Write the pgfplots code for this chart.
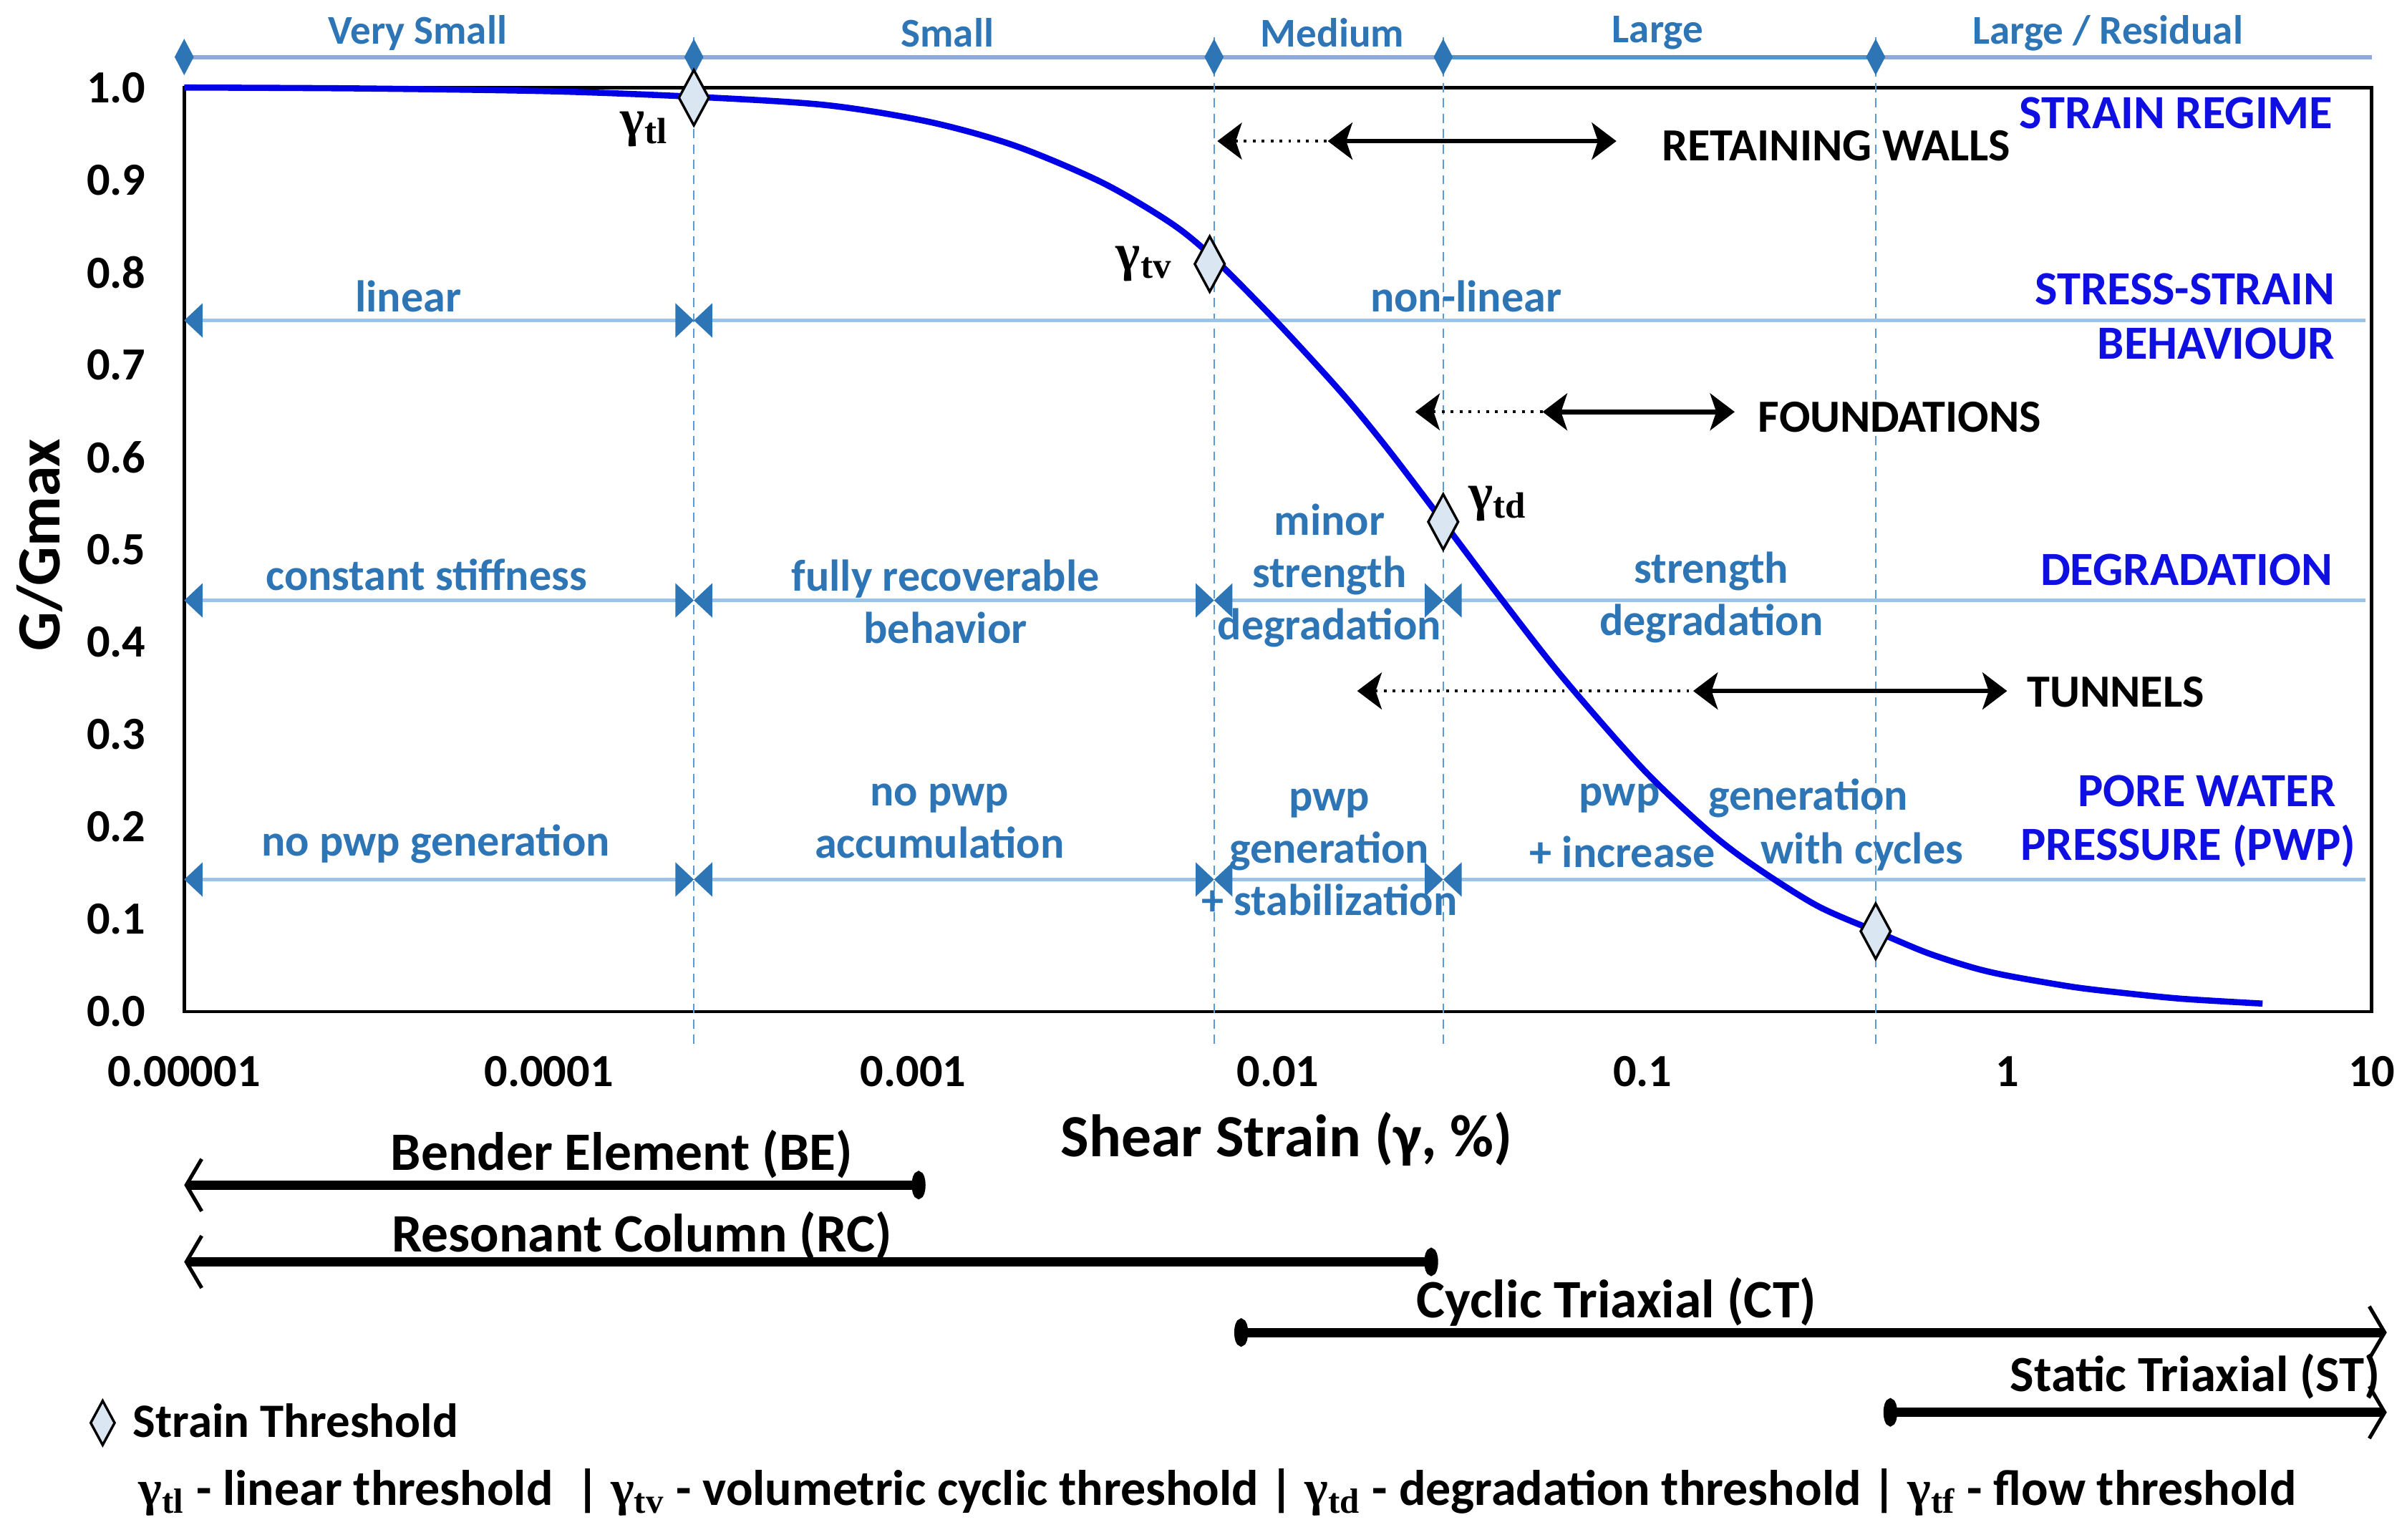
\documentclass[border=0pt]{standalone}
\usepackage{pgfplots}
\pgfplotsset{compat=1.18}
\usetikzlibrary{arrows.meta}
\usepackage{fontspec}
\setmainfont{Carlito}
\newfontfamily\gfont{Liberation Serif}
\definecolor{regime}{RGB}{46,117,182}
\definecolor{lab}{RGB}{15,15,225}
\definecolor{curvec}{RGB}{0,0,230}
\definecolor{thr}{RGB}{91,155,213}
\definecolor{hline}{RGB}{157,195,230}
\definecolor{topbar}{RGB}{142,169,219}
\definecolor{topbar2}{RGB}{80,150,205}
\definecolor{dfill}{RGB}{218,230,242}
\newcommand\fs[1]{\fontsize{#1}{1.2\dimexpr#1pt\relax}\selectfont\bfseries}
\newcommand\gam[1]{{\gfont\bfseries γ\textsubscript{#1}}}

\begin{document}
\begin{tikzpicture}[
  hl/.style={draw=hline, line width=1pt},
  tri/.tip={Triangle[length=6pt,width=11pt,color=regime,fill=regime]},
  stl/.tip={Stealth[length=8pt,width=12pt,inset=2pt]},
  barb/.tip={Straight Barb[length=5pt,width=17pt,line width=1.2pt]},
  dot/.tip={Ellipse[length=4.5pt,width=9pt]},
  rt/.style={regime, font=\fs{14.5}, align=center},
  ml/.style={regime, font=\fontsize{14.5}{17}\selectfont\bfseries, align=center},
  rl/.style={lab, font=\fs{15.5}, anchor=east, inner sep=0pt},
  ap/.style={black, font=\fs{15}, anchor=west, inner sep=0pt},
  tl/.style={black, font=\fs{17.6}},
]
\useasboundingbox (-60pt,-172pt) rectangle (724pt,329.5pt);
\begin{axis}[
  at={(0,0)}, anchor=south west,
  scale only axis, width=712.5pt, height=301pt,
  xmode=log, xmin=1e-5, xmax=10, ymin=0, ymax=1,
  xtick={1e-5,1e-4,1e-3,1e-2,1e-1,1,10},
  xticklabels={0.00001,0.0001,0.001,0.01,0.1,1,10},
  minor xtick={},
  ytick={0,0.1,0.2,0.3,0.4,0.5,0.6,0.7,0.8,0.9,1.0},
  yticklabel style={/pgf/number format/fixed, /pgf/number format/fixed zerofill,
    /pgf/number format/precision=1, /pgf/number format/assume math mode=true, xshift=-9pt},
  xticklabel style={yshift=-11pt},
  major tick length=0pt, minor tick length=0pt,
  tick label style={font=\fs{15}},
  axis line style={line width=1.1pt},
  xlabel={Shear Strain (γ, \%)},
  xlabel style={font=\fs{19.5}, at={(axis description cs:0.504,-0.138)}, anchor=center},
  ylabel={G/Gmax},
  ylabel style={font=\fs{20}, at={(axis description cs:-0.066,0.505)}, anchor=center},
  clip=false,
  legend style={at={(axis description cs:-0.043,-0.445)}, anchor=west, draw=none, fill=none,
    font=\fs{15.6}, inner sep=0pt},
  legend image post style={scale=0.8},
  legend cell align=left,
]
% threshold verticals
\addplot[thr, line width=0.5pt, dash pattern=on 3pt off 2pt, forget plot] coordinates {(2.5e-4,-0.035) (2.5e-4,1.06)};
\addplot[thr, line width=0.5pt, dash pattern=on 3pt off 2pt, forget plot] coordinates {(6.68e-3,-0.035) (6.68e-3,1.06)};
\addplot[thr, line width=0.5pt, dash pattern=on 3pt off 2pt, forget plot] coordinates {(0.0284,-0.035) (0.0284,1.06)};
\addplot[thr, line width=0.5pt, dash pattern=on 3pt off 2pt, forget plot] coordinates {(0.436,-0.035) (0.436,1.06)};

% strain regime bar
\addplot[topbar, line width=1.4pt, forget plot] coordinates {(1e-5,1.033) (10,1.033)};
\addplot[topbar2, line width=1.4pt, forget plot] coordinates {(0.0284,1.033) (0.436,1.033)};
\addplot[only marks, mark=diamond*, color=regime, mark size=5.5pt, mark options={xscale=0.7}, forget plot]
  coordinates {(1e-5,1.033) (2.5e-4,1.033) (6.68e-3,1.033) (0.0284,1.033) (0.436,1.033)};
\node[rt, font=\fs{13.3}] at (axis cs:4.37e-5,1.059) {Very Small};
\node[rt, font=\fs{13.3}] at (axis cs:1.24e-3,1.059) {Small};
\node[rt, font=\fs{13.3}] at (axis cs:0.0141,1.059) {Medium};
\node[rt, font=\fs{13.3}] at (axis cs:0.110,1.059) {Large};
\node[rt, font=\fs{13.3}] at (axis cs:1.89,1.059) {Large / Residual};

% regime lines
\draw[hl, tri-tri] (axis cs:1e-5,0.748) -- (axis cs:2.5e-4,0.748);
\draw[hl, tri-] (axis cs:2.5e-4,0.748) -- (axis cs:9.6,0.748);
\draw[hl, tri-tri] (axis cs:1e-5,0.445) -- (axis cs:2.5e-4,0.445);
\draw[hl, tri-tri] (axis cs:2.5e-4,0.445) -- (axis cs:6.68e-3,0.445);
\draw[hl, tri-tri] (axis cs:6.68e-3,0.445) -- (axis cs:0.0284,0.445);
\draw[hl, tri-] (axis cs:0.0284,0.445) -- (axis cs:9.6,0.445);
\draw[hl, tri-tri] (axis cs:1e-5,0.143) -- (axis cs:2.5e-4,0.143);
\draw[hl, tri-tri] (axis cs:2.5e-4,0.143) -- (axis cs:6.68e-3,0.143);
\draw[hl, tri-tri] (axis cs:6.68e-3,0.143) -- (axis cs:0.0284,0.143);
\draw[hl, tri-] (axis cs:0.0284,0.143) -- (axis cs:9.6,0.143);

\node[rt] at (axis cs:4.12e-5,0.774) {linear};
\node[rt] at (axis cs:0.0328,0.774) {non-linear};
\node[rt] at (axis cs:4.62e-5,0.473) {constant stiffness};
\node[ml] at (axis cs:1.225e-3,0.4435) {fully recoverable\\behavior};
\node[ml] at (axis cs:0.01384,0.4718) {minor\\strength\\degradation};
\node[ml] at (axis cs:0.1545,0.4485) {strength\\degradation};
\node[rt] at (axis cs:4.9e-5,0.181) {no pwp generation};
\node[ml] at (axis cs:1.18e-3,0.206) {no pwp\\accumulation};
\node[ml] at (axis cs:0.01384,0.1728) {pwp\\generation\\+ stabilization};
\node[rt] at (axis cs:0.0865,0.231) {pwp};
\node[rt] at (axis cs:0.0882,0.1728) {+ increase};
\node[rt] at (axis cs:0.285,0.231) {generation};
\node[rt] at (axis cs:0.40,0.1728) {with cycles};

% right-hand labels
\node[rl] at (axis cs:7.85,0.972) {STRAIN REGIME};
\node[rl] at (axis cs:7.95,0.782) {STRESS-STRAIN};
\node[rl] at (axis cs:7.95,0.7226) {BEHAVIOUR};
\node[rl] at (axis cs:7.85,0.478) {DEGRADATION};
\node[rl] at (axis cs:8.0,0.239) {PORE WATER};
\node[rl] at (axis cs:9.08,0.179) {PRESSURE (PWP)};

% applications
\draw[line width=0.9pt, dotted, stl-] (axis cs:0.00682,0.942) -- (axis cs:0.0137,0.942);
\draw[line width=1.5pt, stl-stl] (axis cs:0.0137,0.942) -- (axis cs:0.0848,0.942);
\node[ap] at (axis cs:0.1125,0.937) {RETAINING WALLS};
\draw[line width=0.9pt, dotted, stl-] (axis cs:0.0238,0.649) -- (axis cs:0.0532,0.649);
\draw[line width=1.5pt, stl-stl] (axis cs:0.0532,0.649) -- (axis cs:0.179,0.649);
\node[ap] at (axis cs:0.207,0.643) {FOUNDATIONS};
\draw[line width=0.9pt, dotted, stl-] (axis cs:0.0165,0.347) -- (axis cs:0.1377,0.347);
\draw[line width=1.5pt, stl-stl] (axis cs:0.1377,0.347) -- (axis cs:1.0,0.347);
\node[ap] at (axis cs:1.13,0.3455) {TUNNELS};

% G/Gmax curve
\addplot[curvec, line width=2pt, smooth, tension=0.5, forget plot] coordinates {
  (1e-5,1.000) (3e-5,0.999) (1e-4,0.996) (2.5e-4,0.990)
  (5.75e-4,0.981) (1.1e-3,0.963) (1.9e-3,0.937) (3.3e-3,0.897) (5.1e-3,0.853)
  (6.68e-3,0.815) (1e-2,0.745) (1.5e-2,0.669) (2e-2,0.609) (2.84e-2,0.530)
  (4e-2,0.452) (6e-2,0.363) (0.1,0.263) (0.15,0.197) (0.2,0.159)
  (0.3,0.115) (0.436,0.087) (0.6,0.064) (0.8,0.048) (1,0.039) (1.5,0.027)
  (2,0.021) (3,0.014) (5.02,0.0087)
};
% strain thresholds
\addplot[only marks, mark=diamond*, mark size=9pt,
  mark options={fill=dfill, draw=black, line width=0.8pt, xscale=0.72}]
  coordinates {(2.5e-4,0.989) (6.5e-3,0.809) (0.0284,0.530) (0.436,0.087)};
\addlegendentry{\hspace{4pt}Strain Threshold}

\node[font=\fontsize{17}{20}\selectfont] at (axis cs:1.83e-4,0.955) {\gam{tl}};
\node[font=\fontsize{17}{20}\selectfont] at (axis cs:4.3e-3,0.809) {\gam{tv}};
\node[font=\fontsize{17}{20}\selectfont] at (axis cs:0.0402,0.55) {\gam{td}};

% test ranges
\draw[line width=3pt, barb-dot] (axis cs:1e-5,-0.1877) -- (axis cs:1.08e-3,-0.1877);
\node[tl] at (axis cs:1.585e-4,-0.1545) {Bender Element (BE)};
\draw[line width=3pt, barb-dot] (axis cs:1e-5,-0.2708) -- (axis cs:0.0275,-0.2708);
\node[tl] at (axis cs:1.8e-4,-0.2425) {Resonant Column (RC)};
\draw[line width=3pt, dot-barb] (axis cs:0.00759,-0.3472) -- (axis cs:11,-0.3472);
\node[tl] at (axis cs:0.0848,-0.314) {Cyclic Triaxial (CT)};
\draw[line width=3pt, dot-barb] (axis cs:0.458,-0.4336) -- (axis cs:11,-0.4336);
\node[tl, font=\fs{16.5}, anchor=east, inner sep=0pt] at (axis cs:10.6,-0.395) {Static Triaxial (ST)};

\node[anchor=west, font=\fs{16.3}, inner sep=0pt] at (axis cs:7.48e-6,-0.52)
  {\gam{tl} - linear threshold \ | \gam{tv} - volumetric cyclic threshold | \gam{td} - degradation threshold | \gam{tf} - flow threshold};
\end{axis}
\end{tikzpicture}
\end{document}
